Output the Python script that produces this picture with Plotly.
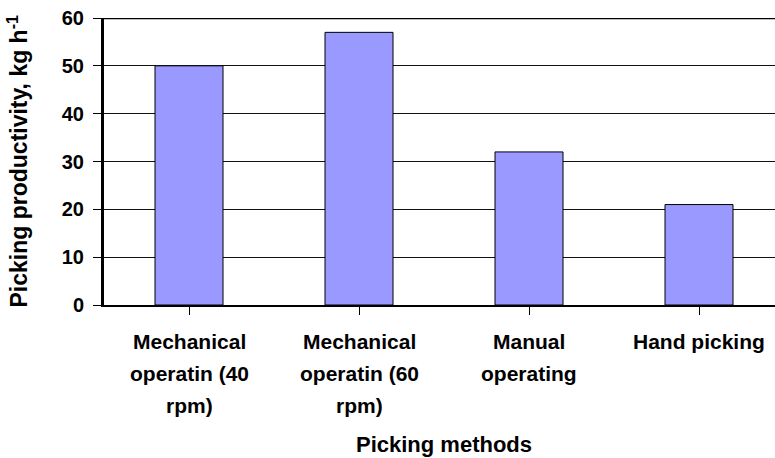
import plotly.graph_objects as go

categories = ["Mechanical operatin (40 rpm)", "Mechanical operatin (60 rpm)", "Manual operating", "Hand picking"]
category_lines = [["Mechanical", "operatin (40", "rpm)"],
                  ["Mechanical", "operatin (60", "rpm)"],
                  ["Manual", "operating"],
                  ["Hand picking"]]
values = [50, 57, 32, 21]
y_ticks = [0, 10, 20, 30, 40, 50, 60]

FONT = "Liberation Sans, Arial, sans-serif"

fig = go.Figure()
fig.add_trace(go.Bar(
    x=list(range(len(categories))), y=values, width=0.4,
    marker=dict(color="#9999FF", line=dict(color="#000000", width=1)),
    hovertext=categories,
))

fig.update_layout(
    width=775, height=458,
    margin=dict(l=104, r=0, t=18, b=153),
    paper_bgcolor="white", plot_bgcolor="white",
    showlegend=False,
    font=dict(family=FONT, size=16, color="black"),
)
fig.update_xaxes(
    range=[-0.5, 3.447], automargin=False,
    tickmode="array", tickvals=list(range(len(categories))),
    showticklabels=False,
    tickson="boundaries", ticks="outside", ticklen=8, tickwidth=1, tickcolor="black",
    showline=True, linecolor="black", linewidth=2, mirror=False,
    showgrid=False, zeroline=False,
)
fig.update_yaxes(
    range=[0, 60], automargin=False,
    tickvals=y_ticks, ticktext=["<b>%d</b>" % v for v in y_ticks],
    ticks="outside", ticklen=8, tickwidth=1, tickcolor="black",
    showline=True, linecolor="black", linewidth=3,
    showgrid=True, gridcolor="#111111", gridwidth=1.2, zeroline=False,
    tickfont=dict(family=FONT, size=20, color="black"),
    ticklabelstandoff=5,
)
fig.add_shape(type="line", xref="paper", yref="y", x0=0, x1=1, y0=60, y1=60,
              line=dict(color="black", width=2.5))

# category labels, one line each, placed at category positions
for i, lines in enumerate(category_lines):
    for j, line in enumerate(lines):
        fig.add_annotation(text="<b>%s</b>" % line, xref="x", yref="paper", x=i, y=0,
                           yshift=-36 - 32 * j, yanchor="middle", xanchor="center",
                           showarrow=False, font=dict(family=FONT, size=21, color="black"))

fig.add_annotation(text="<b>Picking methods</b>", xref="x", yref="paper", x=1.5, y=0,
                   yshift=-139, yanchor="middle", showarrow=False,
                   font=dict(family=FONT, size=22, color="black"))
fig.add_annotation(text="<b>Picking productivity, kg h<sup>-1</sup></b>", xref="paper", yref="paper",
                   x=0, y=0.5, xshift=-87, xanchor="center", yanchor="middle", textangle=-90,
                   showarrow=False, font=dict(family=FONT, size=23, color="black"))

fig.write_html("out.html", config={"displayModeBar": False},
               post_script="document.body.style.margin='0';document.body.style.padding='0';")
